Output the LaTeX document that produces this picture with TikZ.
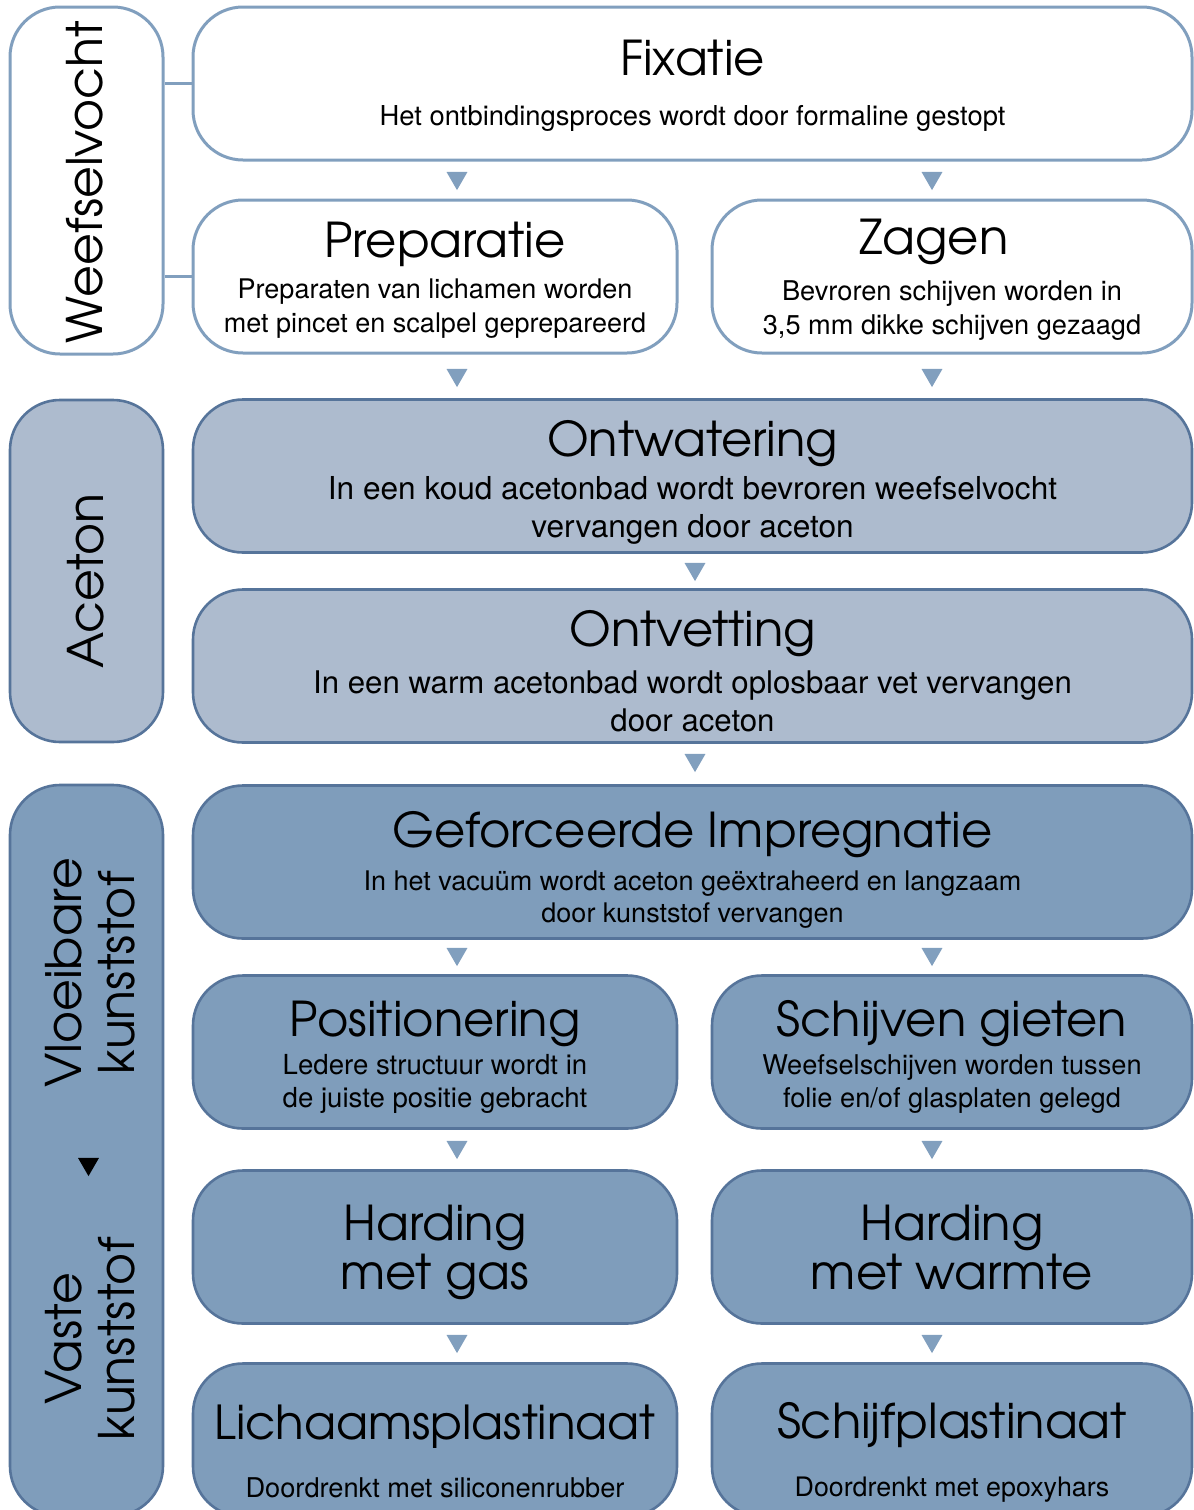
\documentclass[tikz,border=0pt]{standalone}
\usepackage{fontspec}
\newfontfamily\titlefont{TeX Gyre Adventor}
\newfontfamily\bodyfont{TeX Gyre Heros}
\usetikzlibrary{shapes.geometric}
\definecolor{lineblue}{HTML}{819FBE}
\definecolor{darkline}{HTML}{56749A}
\definecolor{acefill}{HTML}{ADBBCE}
\definecolor{resfill}{HTML}{7F9DBB}
\newcommand{\ttl}{\titlefont\fontsize{24}{26}\selectfont}
\newcommand{\txt}[2]{\bodyfont\fontsize{#1}{#2}\selectfont}
\begin{document}
\begin{tikzpicture}[x=0.5pt, y=-0.5pt,
	flowbox/.style={draw=lineblue, line width=1.5pt, fill=white, rounded corners=25pt, minimum height=76.5pt, inner sep=0pt},
	acebox/.style={flowbox, draw=darkline, line width=1.3pt, fill=acefill},
	resbox/.style={acebox, fill=resfill},
	wide/.style={minimum width=499.5pt},
	lhalf/.style={minimum width=242pt},
	rhalf/.style={minimum width=240pt},
	boxtext/.style={inner sep=0pt, align=center},
	sidebar/.style={draw=lineblue, line width=1.5pt, fill=white, rounded corners=25pt, minimum width=76.5pt},
	sidelabel/.style={rotate=90, inner sep=0pt, align=center, font=\titlefont\fontsize{24.5}{26.5}\selectfont},
	pointer/.style={regular polygon, regular polygon sides=3, shape border rotate=180, fill=lineblue, inner sep=0pt, minimum size=12.1pt},
	link/.style={draw=lineblue, line width=1.5pt}]
	\useasboundingbox (0,0) rectangle (1194,1510);
	\clip (0,0) rectangle (1194,1510);
	% zijbalken
	\node[sidebar, minimum height=173.5pt] (weef) at (86.5,180.5) {};
	\node[sidebar, draw=darkline, line width=1.3pt, fill=acefill, minimum height=171pt] (acet) at (86.5,571) {};
	\node[sidebar, draw=darkline, line width=1.3pt, fill=resfill, minimum height=365.5pt] (kunst) at (86.5,1150.5) {};
	\node[sidelabel] (weeflbl) at (85,182) {Weefselvocht};
	\node[sidelabel] (acetlbl) at (86,581) {Aceton};
	\node[sidelabel] (vloeilbl) at (90.5,973) {Vloeibare\\kunststof};
	\node[pointer, fill=black] (kunstarr) at (88.5,1164) {};
	\node[sidelabel] (vastlbl) at (90.5,1339) {Vaste\\kunststof};
	% stappen
	\node[flowbox, wide] (fix) at (692.5,83.5) {};
	\node[flowbox, lhalf] (prep) at (435,276.5) {};
	\node[flowbox, rhalf] (zag) at (952,276.5) {};
	\node[acebox, wide] (ontw) at (692.5,476) {};
	\node[acebox, wide] (ontv) at (692.5,666) {};
	\node[resbox, wide] (impr) at (692.5,862) {};
	\node[resbox, lhalf] (pos) at (435,1052) {};
	\node[resbox, rhalf] (giet) at (952,1052) {};
	\node[resbox, lhalf] (hgas) at (435,1247) {};
	\node[resbox, rhalf] (hwarm) at (952,1247) {};
	\node[resbox, lhalf] (lich) at (435,1440) {};
	\node[resbox, rhalf] (schijf) at (952,1440) {};
	% teksten
	\node[boxtext, font={\txt{13.7}{17}}] (fixtxt) at ([yshift=-1.25pt]fix.center) {{\ttl Fixatie}\\[8pt]Het ontbindingsproces wordt door formaline gestopt};
	\node[boxtext, font={\txt{13.5}{17}}] (preptxt) at ([yshift=-2pt]prep.center) {{\ttl \kern10pt Preparatie}\\[3.5pt]Preparaten van lichamen worden\\met pincet en scalpel geprepareerd};
	\node[boxtext, font={\txt{13.6}{17}}] (zagtxt) at ([yshift=-1.5pt]zag.center) {{\ttl Zagen\kern18pt}\\[6pt]Bevroren schijven worden in\\3,5 mm dikke schijven gezaagd};
	\node[boxtext, font={\txt{15.8}{19}}] (ontwtxt) at ([yshift=-3pt]ontw.center) {{\ttl Ontwatering}\\[2.5pt]In een koud acetonbad wordt bevroren weefselvocht\\vervangen door aceton};
	\node[boxtext, font={\txt{15.6}{19}}] (ontvtxt) at ([yshift=-2.5pt]ontv.center) {{\ttl Ontvetting}\\[4.5pt]In een warm acetonbad wordt oplosbaar vet vervangen\\door aceton};
	\node[boxtext, font={\txt{13.5}{16}}] (imprtxt) at ([yshift=-4pt]impr.center) {{\ttl Geforceerde Impregnatie}\\[5.5pt]In het vacuüm wordt aceton geëxtraheerd en langzaam\\door kunststof vervangen};
	\node[boxtext, font={\txt{13.8}{16.5}}] (postxt) at ([yshift=-2.5pt]pos.center) {{\ttl Positionering}\\[2.5pt]Ledere structuur wordt in\\de juiste positie gebracht};
	\node[boxtext, font={\txt{13.6}{16.5}}] (giettxt) at ([yshift=-2.5pt]giet.center) {{\ttl Schijven gieten}\\[2.5pt]Weefselschijven worden tussen\\folie en/of glasplaten gelegd};
	\node[boxtext, font=\titlefont\fontsize{24}{24.5}\selectfont] (hgastxt) at ([yshift=-2.5pt]hgas.center) {Harding\\met gas};
	\node[boxtext, font=\titlefont\fontsize{24}{24.5}\selectfont] (hwarmtxt) at ([yshift=-0.5pt]hwarm.center) {Harding\\met warmte};
	\node[boxtext, font={\txt{13.6}{17}}] (lichtxt) at ([yshift=-5.5pt]lich.center) {{\titlefont\fontsize{23.4}{26}\selectfont Lichaamsplastinaat}\\[12pt]Doordrenkt met siliconenrubber};
	\node[boxtext, font={\txt{13.4}{17}}] (schijftxt) at ([yshift=-6pt]schijf.center) {{\ttl Schijfplastinaat}\\[12pt]Doordrenkt met epoxyhars};
	% verbindingen
	\draw[link] (weef.east |- fix.west) -- (fix.west);
	\draw[link] (weef.east |- prep.west) -- (prep.west);
	% pijlen
	\node[pointer] (p1) at (457,178) {};
	\node[pointer] (p2) at (932,178) {};
	\node[pointer] (p3) at (457,375) {};
	\node[pointer] (p4) at (932,375) {};
	\node[pointer] (p5) at (695,569) {};
	\node[pointer] (p6) at (695,760) {};
	\node[pointer] (p7) at (457,954) {};
	\node[pointer] (p8) at (932,954) {};
	\node[pointer] (p9) at (457,1147) {};
	\node[pointer] (p10) at (932,1147) {};
	\node[pointer] (p11) at (457,1341) {};
	\node[pointer] (p12) at (932,1341) {};
\end{tikzpicture}
\end{document}
